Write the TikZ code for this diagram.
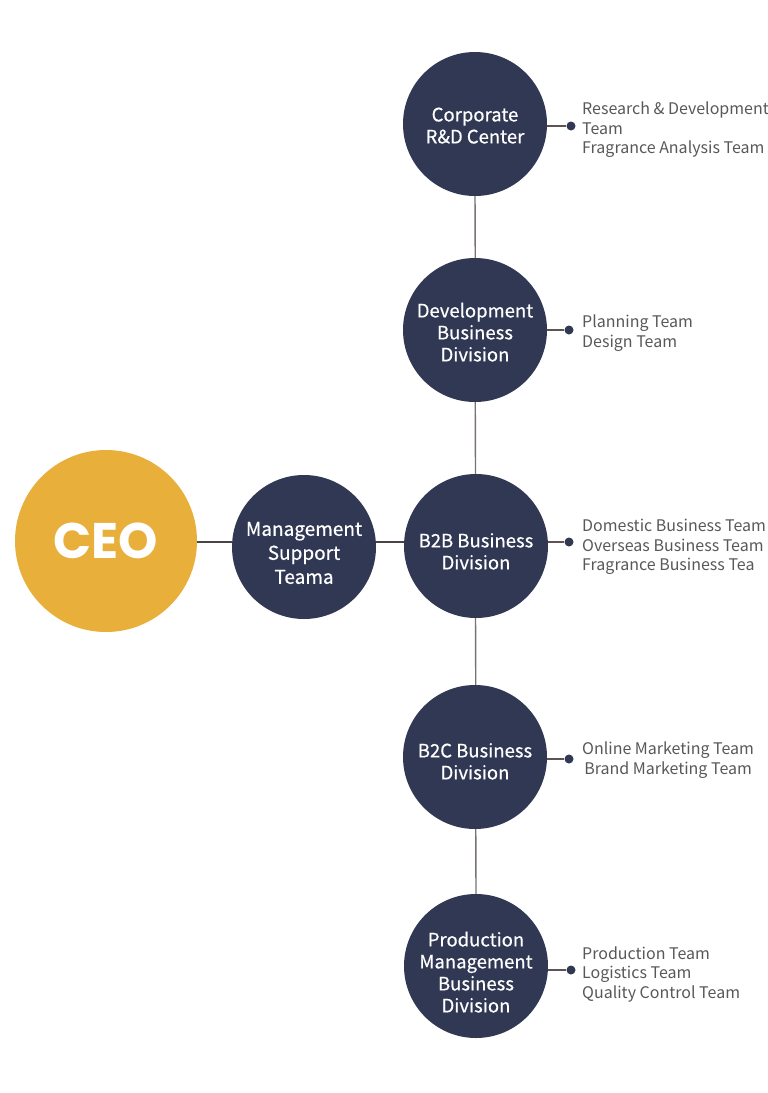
\documentclass[tikz,border=0pt]{standalone}
\usepackage{fontspec}
\setmainfont{Noto Sans CJK KR}
\newfontfamily\unitfont{Noto Sans CJK KR}[FakeBold=0.5]
\newfontfamily\ceofont{Poppins}
\usetikzlibrary{backgrounds}
\definecolor{navy}{HTML}{313854}
\definecolor{gold}{HTML}{E8AF3B}
\definecolor{labgray}{HTML}{585858}
\definecolor{vline}{HTML}{7A7272}
\definecolor{hlinec}{HTML}{4A4444}
\definecolor{conn}{HTML}{5E5252}
\newcommand{\lowtxt}[2][4pt]{\raisebox{-#1}[\height][\depth]{\begin{tabular}{@{}c@{}}#2\end{tabular}}}
\tikzset{
  unit/.style={circle, fill=navy, draw=none, minimum size=144pt, inner sep=0pt,
    text=white, font=\fontsize{18.5}{22}\unitfont},
  ceobox/.style={circle, fill=gold, draw=none, minimum size=182pt, inner sep=0pt,
    text=white, font=\fontsize{50}{50}\ceofont\bfseries},
  dotnode/.style={circle, fill=navy, draw=none, minimum size=9pt, inner sep=0pt},
  lab/.style={anchor=west, inner sep=0pt, text=labgray, align=left,
    font=\fontsize{16}{19.5}\selectfont},
  vlink/.style={draw=vline, line width=1.3pt},
  hlink/.style={draw=hlinec, line width=1.5pt},
  clink/.style={draw=conn, line width=1.5pt}
}
\begin{document}
\begin{tikzpicture}[x=1pt,y=-1pt]
\useasboundingbox (0,0) rectangle (768,1093);
% circles
\node[ceobox] (ceo) at (106,541) {CEO};
\node[unit, font=\fontsize{19}{24}\unitfont] (mgmt) at (304,547) {\lowtxt[8pt]{Management\\Support\\Teama}};
\node[unit] (rd) at (475,124) {\lowtxt[4pt]{Corporate\\R\&D Center}};
\node[unit] (dev) at (475,330) {\lowtxt[5pt]{Development\\Business\\Division}};
\node[unit] (b2b) at (476,546) {\lowtxt[8pt]{B2B Business\\Division}};
\node[unit] (b2c) at (475,757) {\lowtxt[7pt]{B2C Business\\Division}};
\node[unit] (prod) at (476,966) {\lowtxt[9pt]{Production\\Management\\Business\\Division}};
% trunk lines
\begin{scope}[on background layer]
\draw[vlink] (rd.center) -- (prod.center);
\end{scope}
\coordinate (hy) at (0,542);
\draw[hlink] (ceo.east |- hy) -- (mgmt.west |- hy);
\draw[hlink] (mgmt.east |- hy) -- (b2b.west |- hy);
% dots
\node[dotnode] (d1) at (571,126) {};
\node[dotnode] (d2) at (569,330) {};
\node[dotnode] (d3) at (569,542) {};
\node[dotnode] (d4) at (569,759) {};
\node[dotnode] (d5) at (571,970) {};
\draw[clink] (rd.east |- d1) -- (d1);
\draw[clink] (dev.east |- d2) -- (d2);
\draw[clink] (b2b.east |- d3) -- (d3);
\draw[clink] (b2c.east |- d4) -- (d4);
\draw[clink] (prod.east |- d5) -- (d5);
% labels
\node[lab] (t1) at (582,130) {Research \& Development\\Team\\Fragrance Analysis Team};
\node[lab] (t2) at (582,333) {Planning Team\\Design Team};
\node[lab] (t3) at (582,547) {Domestic Business Team\\Overseas Business Team\\Fragrance Business Tea};
\node[lab, align=center] (t4) at (582,760) {Online Marketing Team\\Brand Marketing Team};
\node[lab] (t5) at (582,974) {Production Team\\Logistics Team\\Quality Control Team};
\end{tikzpicture}
\end{document}
